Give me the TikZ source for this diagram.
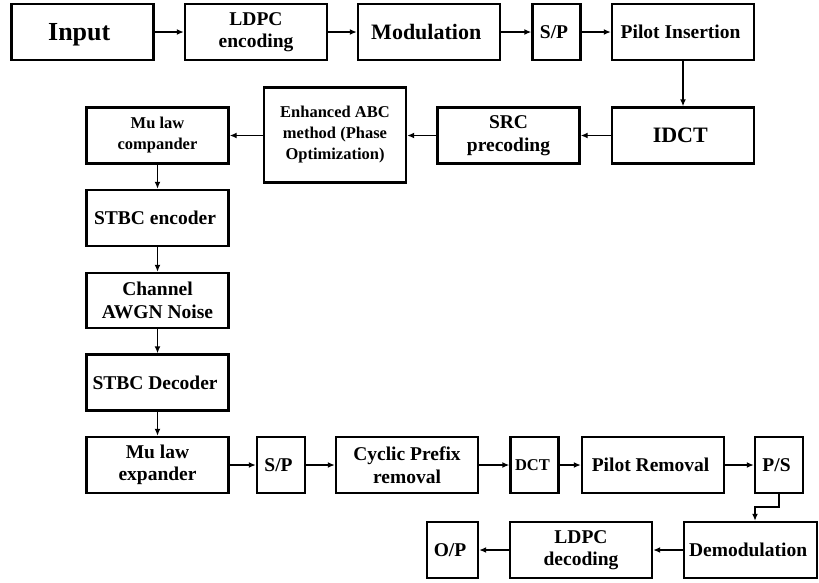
\documentclass[tikz,border=0pt]{standalone}
\usepackage{fontspec}
\setmainfont{Liberation Serif}
\usetikzlibrary{arrows.meta}

\begin{document}
\begin{tikzpicture}[x=1pt, y=-1pt,
 box/.style = {draw, line width=2.4pt, align=center, inner sep=0pt, minimum height=56pt, font=\bfseries\fontsize{19.5}{22.5}\selectfont},
 wide/.style = {box, minimum width=142pt},
 narrow/.style = {box, minimum width=48pt},
 big/.style = {font=\bfseries\fontsize{26}{28}\selectfont, text depth=0pt},
 mid/.style = {font=\bfseries\fontsize{22}{24}\selectfont},
 small/.style = {font=\bfseries\fontsize{16.5}{21}\selectfont}]
\useasboundingbox (0,0) rectangle (819,582);

\node[wide, big] (input) at (82.5, 32) { Input };
\node[wide] (ldpc_enc) at (256, 32) { LDPC\\encoding };
\node[wide, mid] (modulation) at (429, 32) { Modulation };
\node[narrow] (sp_tx) at (556.5, 32) { S/P };
\node[wide] (pilot_ins) at (683, 32) { Pilot Insertion };

\node[wide, mid] (idct) at (683, 135.5) { IDCT };
\node[wide] (src) at (508.5, 135.5) { SRC\\precoding };
\node[wide, small, minimum height=95pt] (abc) at (335, 135) { Enhanced ABC\\method (Phase\\Optimization) };
\node[wide, small] (mu_comp) at (157.5, 135.5) { Mu law\\compander };

\node[wide] (stbc_enc) at (157.5, 218) { STBC encoder };
\node[wide, minimum height=55pt] (channel) at (157.5, 300.5) { Channel\\AWGN Noise };
\node[wide] (stbc_dec) at (157.5, 382.5) { STBC Decoder };

\node[wide] (mu_exp) at (157.5, 465) { Mu law\\expander };
\node[narrow] (sp_rx) at (281, 465) { S/P };
\node[wide] (cp_rem) at (407, 465) { Cyclic Prefix\\removal };
\node[narrow, small] (dct) at (534.5, 465) { DCT };
\node[wide] (pilot_rem) at (653, 465) { Pilot Removal };
\node[narrow] (ps) at (779, 465) { P/S };

\node[box, minimum width=133pt] (demod) at (750.5, 550) { Demodulation };
\node[wide] (ldpc_dec) at (581, 550) { LDPC\\decoding };
\node[narrow, minimum width=51pt] (op) at (452.5, 550) { O/P };

\coordinate (ps_turn) at (755, 507);

\begin{scope}[line width=1.5pt, -{Latex[length=7pt,width=6pt]}]
\draw (input) -- (ldpc_enc);
\draw (ldpc_enc) -- (modulation);
\draw (modulation) -- (sp_tx);
\draw (sp_tx) -- (pilot_ins);
\draw (pilot_ins) -- (idct);
\draw (idct) -- (src);
\draw (src.west) -- (src.west -| abc.east);
\draw (abc.west |- mu_comp) -- (mu_comp);
\draw (mu_comp) -- (stbc_enc);
\draw (stbc_enc) -- (channel);
\draw (channel) -- (stbc_dec);
\draw (stbc_dec) -- (mu_exp);
\draw (mu_exp) -- (sp_rx);
\draw (sp_rx) -- (cp_rem);
\draw (cp_rem) -- (dct);
\draw (dct) -- (pilot_rem);
\draw (pilot_rem) -- (ps);
\draw (ps) |- (ps_turn) -- (ps_turn |- demod.north);
\draw (demod) -- (ldpc_dec);
\draw (ldpc_dec) -- (op);
\end{scope}
\end{tikzpicture}
\end{document}
